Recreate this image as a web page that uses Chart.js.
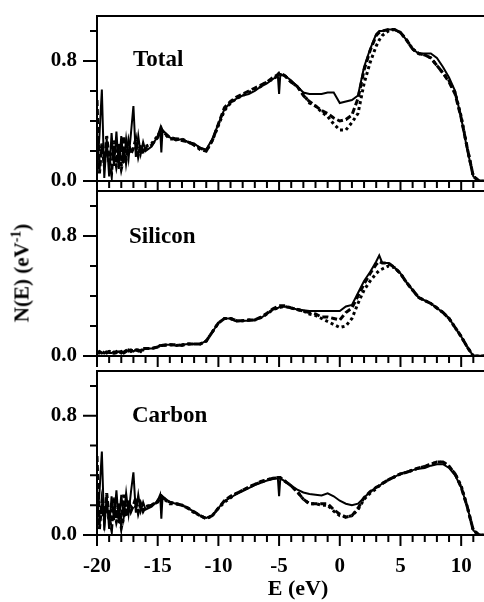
<!DOCTYPE html>
<html>
<head>
<meta charset="utf-8">
<script src="https://cdn.jsdelivr.net/npm/chart.js@4.4.1/dist/chart.umd.min.js"></script>
<style>
  body { margin: 0; background: #fff; }
  #wrap { position: relative; width: 484px; height: 602px; overflow: hidden; }
  canvas { position: absolute; left: 0; top: 0; }
  .lbl { position: absolute; font-family: 'Liberation Serif', 'Times New Roman', serif; font-weight: bold; color: #000; white-space: nowrap; }
  .panel { font-size: 23px; line-height: 23px; }
  #ytitle { left: 23px; top: 273px; font-size: 21px; line-height: 21px; transform: translate(-50%, -50%) rotate(-90deg); }
  #ytitle sup { font-size: 14px; position: relative; top: -8px; vertical-align: baseline; }
  #xtitle { left: 298px; top: 577px; font-size: 22px; line-height: 22px; transform: translateX(-50%); }
</style>
</head>
<body>
<div id="wrap">
  <canvas id="totalChart" width="484" height="602"></canvas>
  <canvas id="siliconChart" width="484" height="602"></canvas>
  <canvas id="carbonChart" width="484" height="602"></canvas>
  <div class="lbl panel" style="left:133px;top:47px">Total</div>
  <div class="lbl panel" style="left:129px;top:224px">Silicon</div>
  <div class="lbl panel" style="left:132px;top:403px">Carbon</div>
  <div class="lbl" id="ytitle">N(E) (eV<sup>-1</sup>)</div>
  <div class="lbl" id="xtitle">E (eV)</div>
</div>
<script>
// energy grid (eV), shared by every curve
var energy = [
  -20.0,-19.8,-19.6,-19.4,-19.2,-19.0,-18.8,-18.6,-18.4,-18.2,
  -18.0,-17.8,-17.6,-17.4,-17.2,-17.0,-16.8,-16.6,-16.4,-16.2,
  -16.0,-15.5,-15.0,-14.8,-14.7,-14.6,-14.0,-13.5,-13.0,-12.5,
  -12.0,-11.5,-11.0,-10.5,-10.0,-9.5,-9.0,-8.5,-8.0,-7.5,
  -7.0,-6.5,-6.0,-5.5,-5.1,-5.0,-4.9,-4.5,-4.0,-3.5,
  -3.0,-2.5,-2.0,-1.5,-1.0,-0.5,0.0,0.5,1.0,1.5,
  2.0,2.5,3.0,3.25,3.5,4.0,4.5,5.0,5.5,6.0,
  6.5,7.0,7.5,8.0,8.5,9.0,9.5,10.0,10.5,11.0,
  11.5,12.0
];

var totalSolid = [
  0.05,0.30,0.61,0.02,0.28,0.03,0.32,0.10,0.33,0.08,
  0.30,0.12,0.28,0.15,0.32,0.50,0.16,0.30,0.18,0.26,
  0.20,0.23,0.30,0.35,0.19,0.34,0.29,0.27,0.28,0.26,
  0.25,0.22,0.21,0.28,0.38,0.48,0.52,0.55,0.57,0.58,
  0.60,0.63,0.65,0.68,0.70,0.58,0.71,0.70,0.67,0.63,
  0.59,0.58,0.58,0.58,0.59,0.59,0.52,0.53,0.54,0.57,
  0.76,0.88,0.98,1.00,1.00,1.01,1.01,0.99,0.94,0.88,
  0.85,0.85,0.85,0.82,0.76,0.69,0.60,0.42,0.21,0.03,
  0.0,0.0
];
var totalDashed = [
  0.54,0.05,0.25,0.10,0.30,0.15,0.05,0.27,0.12,0.25,
  0.10,0.30,0.14,0.26,0.18,0.22,0.28,0.17,0.24,0.18,
  0.22,0.24,0.29,0.33,0.35,0.33,0.29,0.28,0.27,0.26,
  0.24,0.22,0.20,0.27,0.38,0.49,0.53,0.56,0.58,0.60,
  0.62,0.64,0.66,0.69,0.71,0.72,0.72,0.70,0.66,0.63,
  0.57,0.53,0.50,0.47,0.45,0.42,0.40,0.41,0.44,0.55,
  0.74,0.87,0.97,0.99,1.00,1.01,1.01,0.99,0.94,0.88,
  0.85,0.84,0.82,0.77,0.72,0.66,0.58,0.42,0.22,0.03,
  0.0,0.0
];
var totalDotted = [
  0.20,0.12,0.22,0.15,0.20,0.12,0.18,0.20,0.10,0.18,
  0.08,0.15,0.20,0.18,0.22,0.20,0.22,0.19,0.21,0.20,
  0.23,0.25,0.30,0.33,0.34,0.33,0.28,0.28,0.28,0.26,
  0.24,0.21,0.20,0.27,0.37,0.47,0.52,0.55,0.57,0.59,
  0.61,0.63,0.66,0.68,0.70,0.71,0.71,0.70,0.66,0.63,
  0.58,0.52,0.50,0.46,0.43,0.38,0.34,0.34,0.39,0.45,
  0.65,0.79,0.90,0.94,0.97,1.00,1.01,0.99,0.94,0.88,
  0.85,0.84,0.82,0.77,0.72,0.67,0.59,0.43,0.22,0.03,
  0.0,0.0
];

var siliconSolid = [
  0.02,0.03,0.02,0.02,0.03,0.02,0.02,0.03,0.02,0.03,
  0.02,0.03,0.04,0.03,0.04,0.03,0.04,0.03,0.04,0.04,
  0.05,0.05,0.06,0.07,0.07,0.075,0.075,0.07,0.075,0.08,
  0.08,0.08,0.10,0.16,0.22,0.25,0.25,0.23,0.235,0.235,
  0.24,0.255,0.28,0.31,0.32,0.325,0.325,0.33,0.32,0.31,
  0.305,0.30,0.30,0.30,0.30,0.30,0.30,0.33,0.34,0.42,
  0.50,0.56,0.63,0.67,0.62,0.62,0.59,0.55,0.49,0.44,
  0.39,0.37,0.35,0.32,0.29,0.25,0.19,0.13,0.06,0.0,
  0.0,0.0
];
var siliconDashed = [
  0.02,0.03,0.02,0.03,0.02,0.03,0.02,0.02,0.03,0.02,
  0.03,0.02,0.03,0.04,0.03,0.04,0.04,0.04,0.03,0.05,
  0.05,0.05,0.06,0.07,0.07,0.07,0.075,0.075,0.07,0.08,
  0.08,0.08,0.10,0.16,0.22,0.25,0.25,0.235,0.235,0.24,
  0.24,0.26,0.285,0.315,0.33,0.335,0.335,0.335,0.32,0.31,
  0.30,0.29,0.28,0.26,0.26,0.25,0.24,0.29,0.32,0.40,
  0.48,0.55,0.61,0.63,0.62,0.62,0.59,0.55,0.49,0.44,
  0.39,0.37,0.35,0.32,0.29,0.25,0.19,0.13,0.06,0.0,
  0.0,0.0
];
var siliconDotted = [
  0.02,0.02,0.03,0.02,0.02,0.03,0.03,0.02,0.02,0.03,
  0.02,0.03,0.03,0.04,0.04,0.03,0.04,0.04,0.04,0.04,
  0.05,0.05,0.06,0.07,0.07,0.07,0.075,0.07,0.075,0.08,
  0.08,0.08,0.10,0.16,0.22,0.25,0.25,0.235,0.235,0.24,
  0.24,0.255,0.28,0.31,0.32,0.325,0.325,0.33,0.32,0.31,
  0.30,0.28,0.27,0.25,0.23,0.21,0.19,0.20,0.25,0.35,
  0.44,0.50,0.55,0.57,0.58,0.60,0.59,0.55,0.49,0.44,
  0.39,0.37,0.35,0.32,0.29,0.25,0.19,0.13,0.06,0.0,
  0.0,0.0
];

var carbonSolid = [
  0.08,0.28,0.56,0.03,0.27,0.04,0.26,0.10,0.30,0.08,
  0.27,0.12,0.28,0.14,0.29,0.42,0.15,0.27,0.16,0.22,
  0.17,0.19,0.23,0.27,0.11,0.26,0.22,0.21,0.20,0.18,
  0.155,0.13,0.115,0.13,0.18,0.23,0.25,0.275,0.295,0.315,
  0.335,0.35,0.365,0.375,0.38,0.26,0.38,0.36,0.33,0.305,
  0.285,0.275,0.27,0.265,0.28,0.26,0.23,0.21,0.20,0.21,
  0.25,0.29,0.32,0.33,0.345,0.37,0.39,0.41,0.425,0.435,
  0.445,0.45,0.465,0.475,0.475,0.45,0.40,0.32,0.19,0.03,
  0.0,0.0
];
var carbonDashed = [
  0.53,0.04,0.22,0.10,0.28,0.12,0.04,0.25,0.11,0.22,
  0.08,0.27,0.12,0.24,0.16,0.20,0.25,0.15,0.21,0.16,
  0.19,0.20,0.22,0.25,0.26,0.25,0.22,0.21,0.20,0.18,
  0.155,0.13,0.11,0.13,0.18,0.23,0.26,0.28,0.30,0.32,
  0.34,0.36,0.37,0.38,0.385,0.385,0.385,0.36,0.33,0.29,
  0.24,0.21,0.21,0.21,0.21,0.17,0.14,0.12,0.13,0.18,
  0.25,0.29,0.32,0.33,0.345,0.37,0.39,0.41,0.42,0.435,
  0.45,0.46,0.475,0.49,0.49,0.46,0.41,0.32,0.19,0.03,
  0.0,0.0
];
var carbonDotted = [
  0.18,0.10,0.20,0.13,0.18,0.10,0.16,0.18,0.09,0.15,
  0.05,0.12,0.18,0.16,0.19,0.17,0.19,0.16,0.18,0.17,
  0.19,0.20,0.23,0.25,0.26,0.25,0.21,0.21,0.20,0.18,
  0.15,0.13,0.11,0.13,0.18,0.22,0.25,0.28,0.30,0.32,
  0.34,0.355,0.37,0.38,0.385,0.385,0.38,0.36,0.33,0.29,
  0.24,0.21,0.21,0.20,0.20,0.16,0.13,0.12,0.13,0.17,
  0.24,0.28,0.31,0.33,0.345,0.37,0.39,0.41,0.42,0.435,
  0.45,0.46,0.475,0.49,0.49,0.46,0.41,0.33,0.19,0.03,
  0.0,0.0
];

// axis ticks
var xTicks = [];
for (var e = -20; e <= 11; e++) xTicks.push(e);
var yTicks = [0, 0.2, 0.4, 0.6, 0.8, 1.0];
var yLabelled = [0, 0.8];

var xMin = -20, xMax = 11.88, yMax = 1.1;
var tickFont = { family: "'Liberation Serif', 'Times New Roman', serif", size: 21, weight: 'bold' };

function points(ys) {
  return energy.map(function (e, i) { return { x: e, y: ys[i] }; });
}

function isLabelled(v) {
  return yLabelled.some(function (t) { return Math.abs(t - v) < 1e-6; });
}

// box, axis line and outward tick marks (major longer than minor)
var framePlugin = {
  id: 'frame',
  afterDraw: function (chart) {
    var ctx = chart.ctx, a = chart.chartArea, x = chart.scales.x, y = chart.scales.y;
    ctx.save();
    ctx.strokeStyle = '#000';
    ctx.lineWidth = 2;
    ctx.beginPath();
    ctx.moveTo(a.right, a.top);
    ctx.lineTo(a.left, a.top);
    ctx.lineTo(a.left, a.bottom + 11);
    ctx.moveTo(a.left, a.bottom);
    ctx.lineTo(a.right, a.bottom);
    xTicks.forEach(function (v) {
      var px = x.getPixelForValue(v);
      ctx.moveTo(px, a.bottom);
      ctx.lineTo(px, a.bottom + (v % 5 === 0 ? 11 : 7));
    });
    yTicks.forEach(function (v) {
      var py = y.getPixelForValue(v);
      ctx.moveTo(a.left, py);
      ctx.lineTo(a.left - (isLabelled(v) ? 14 : 7), py);
    });
    ctx.stroke();
    ctx.restore();
  }
};

function makePanel(id, solid, dashed, dotted, top, zero, showX) {
  return new Chart(document.getElementById(id), {
    type: 'line',
    data: {
      datasets: [
        { data: points(dotted), borderDash: [3, 3], borderWidth: 3 },
        { data: points(dashed), borderDash: [6, 3], borderWidth: 3 },
        { data: points(solid), borderWidth: 2 }
      ]
    },
    options: {
      responsive: false,
      animation: false,
      events: [],
      layout: { padding: { top: top, left: 0, right: 0, bottom: 0 } },
      elements: {
        point: { radius: 0 },
        line: { borderColor: '#000', tension: 0, fill: false }
      },
      plugins: { legend: { display: false }, tooltip: { enabled: false } },
      scales: {
        x: {
          type: 'linear', min: xMin, max: xMax,
          grid: { display: false, drawTicks: false },
          border: { display: false },
          ticks: {
            display: showX, stepSize: 1, autoSkip: false, maxRotation: 0,
            padding: 19, color: '#000', font: tickFont,
            callback: function (v) { return v % 5 === 0 ? String(v) : ''; }
          },
          afterFit: function (s) {
            s.height = 602 - zero;
            s.paddingLeft = 0;
            s.paddingRight = 0;
          }
        },
        y: {
          type: 'linear', min: 0, max: yMax,
          grid: { display: false, drawTicks: false },
          border: { display: false },
          ticks: {
            stepSize: 0.2, padding: 20, color: '#000', font: tickFont,
            callback: function (v) { return isLabelled(v) ? v.toFixed(1) : ''; }
          },
          afterFit: function (s) {
            s.width = 97;
            s.paddingTop = 0;
            s.paddingBottom = 0;
          }
        }
      }
    },
    plugins: [framePlugin]
  });
}

makePanel('totalChart', totalSolid, totalDashed, totalDotted, 16, 181, false);
makePanel('siliconChart', siliconSolid, siliconDashed, siliconDotted, 191, 356, false);
makePanel('carbonChart', carbonSolid, carbonDashed, carbonDotted, 371, 535, true);
</script>
</body>
</html>
